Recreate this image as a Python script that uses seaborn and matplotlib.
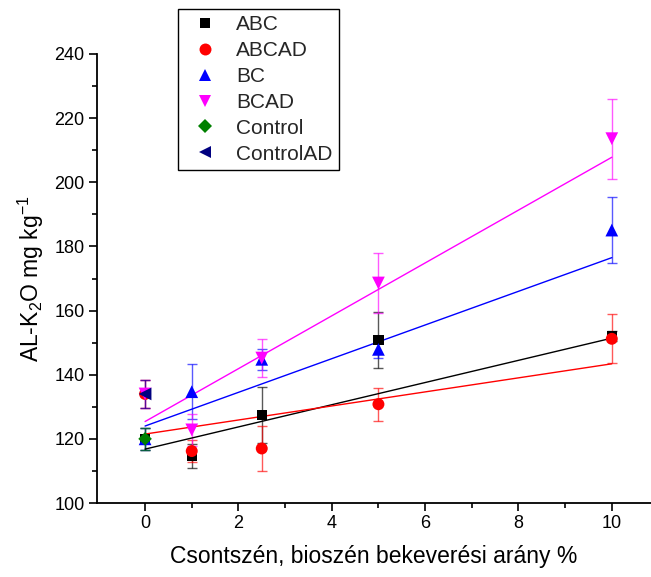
import numpy as np
import pandas as pd
import matplotlib
matplotlib.use("Agg")
import matplotlib.pyplot as plt
from matplotlib.lines import Line2D
from matplotlib.ticker import MultipleLocator, FixedLocator
import seaborn as sns

# ---- data -------------------------------------------------------------
groups = ["ABC", "ABCAD", "BC", "BCAD", "Control", "ControlAD"]
rate = [0, 1, 2.5, 5, 10]          # mixing ratio, %

abc_mean = [120.0, 114.7, 127.4, 150.8, 152.0]
abc_sd = [3.5, 3.8, 8.7, 8.6, 1.5]
abcad_mean = [134.0, 116.2, 117.0, 130.8, 151.2]
abcad_sd = [4.5, 3.3, 7.0, 5.2, 7.7]
bc_mean = [120.0, 134.7, 144.8, 147.9, 185.1]
bc_sd = [3.5, 8.5, 3.3, 2.8, 10.2]
bcad_mean = [134.0, 122.8, 145.2, 168.6, 213.6]
bcad_sd = [4.5, 5.0, 5.8, 9.3, 12.5]
control_mean = [120.0]
control_sd = [3.5]
controlad_mean = [134.0]
controlad_sd = [4.5]

# linear fits of the amended series (ABC, ABCAD, BC, BCAD)
fit_intercept = [116.8, 121.5, 124.0, 125.4]
fit_slope = [3.46, 2.19, 5.25, 8.24]
fit_range = [0, 10]

x_ticks = [0, 2, 4, 6, 8, 10]
y_ticks = [100, 120, 140, 160, 180, 200, 220, 240]

# ---- styles -----------------------------------------------------------
colors = {"ABC": "#000000", "ABCAD": "#FF0000", "BC": "#0000FF",
          "BCAD": "#FF00FF", "Control": "#008000", "ControlAD": "#000080"}
markers = {"ABC": "s", "ABCAD": "o", "BC": "^", "BCAD": "v",
           "Control": "D", "ControlAD": "<"}
sizes = {"ABC": 56, "ABCAD": 74, "BC": 84, "BCAD": 84,
         "Control": 48, "ControlAD": 84}

means = dict(zip(groups, [abc_mean, abcad_mean, bc_mean, bcad_mean,
                          control_mean, controlad_mean]))
sds = dict(zip(groups, [abc_sd, abcad_sd, bc_sd, bcad_sd,
                        control_sd, controlad_sd]))
xs = {g: (rate if len(means[g]) == len(rate) else [0]) for g in groups}

rows = []
for g in groups:
    for x, m, s in zip(xs[g], means[g], sds[g]):
        rows.append({"group": g, "rate": x, "value": m, "sd": s})
df = pd.DataFrame(rows)

sns.set_theme(style="ticks")
plt.rcParams["font.family"] = ["Liberation Sans", "DejaVu Sans"]

fig = plt.figure(figsize=(6.51, 5.77), dpi=100)
ax = fig.add_axes([97 / 651, 1 - 503 / 577, 554 / 651, 449 / 577])

# error bars
for g in groups:
    sub = df[df["group"] == g]
    ax.errorbar(sub["rate"], sub["value"], yerr=sub["sd"], fmt="none",
                ecolor=colors[g], elinewidth=1.0, capsize=3.6, capthick=1.0,
                alpha=0.65, zorder=1)

# fitted lines
xf = np.array(fit_range, dtype=float)
for g, b0, b1 in zip(groups[:4], fit_intercept, fit_slope):
    ax.plot(xf, b0 + b1 * xf, color=colors[g], lw=1.0, zorder=2)

# mean values
sns.scatterplot(data=df, x="rate", y="value", hue="group", style="group",
                size="group", sizes=sizes, palette=colors, markers=markers,
                edgecolor="face", linewidth=0, legend=False, ax=ax, zorder=3)

ax.set_xlim(-1.03, 10.84)
ax.set_ylim(100, 240)
ax.xaxis.set_major_locator(FixedLocator(x_ticks))
ax.xaxis.set_minor_locator(FixedLocator([1, 3, 5, 7, 9]))
ax.yaxis.set_major_locator(FixedLocator(y_ticks))
ax.yaxis.set_minor_locator(MultipleLocator(10))
ax.tick_params(which="major", direction="out", length=6, width=1.2,
               labelsize=13, pad=3, color="black", labelcolor="black")
ax.tick_params(which="minor", direction="out", length=3.5, width=1.2,
               color="black")
for side in ["top", "right"]:
    ax.spines[side].set_visible(False)
for side in ["left", "bottom"]:
    ax.spines[side].set_linewidth(1.3)
    ax.spines[side].set_color("black")

ax.set_xlabel("Csontszén, bioszén bekeverési arány %", fontsize=16.5,
              labelpad=9, color="black")
ax.set_ylabel(r"AL-K$_\mathregular{2}$O mg kg$^\mathregular{-1}$",
              fontsize=16.5, labelpad=6, color="black")

handles = [Line2D([], [], linestyle="none", marker=markers[g],
                  color=colors[g], markeredgewidth=0,
                  markersize=np.sqrt(sizes[g])) for g in groups]
leg = ax.legend(handles, groups, loc="upper left",
                bbox_to_anchor=(178 / 651, 1 - 9 / 577),
                bbox_transform=fig.transFigure, borderaxespad=0,
                frameon=True, fancybox=False, framealpha=1,
                edgecolor="black", fontsize=15, labelspacing=0.33,
                handletextpad=0.5, handlelength=2.0, borderpad=0.3)
leg.get_frame().set_linewidth(1.0)

fig.savefig("out.png", dpi=100, facecolor="white")
